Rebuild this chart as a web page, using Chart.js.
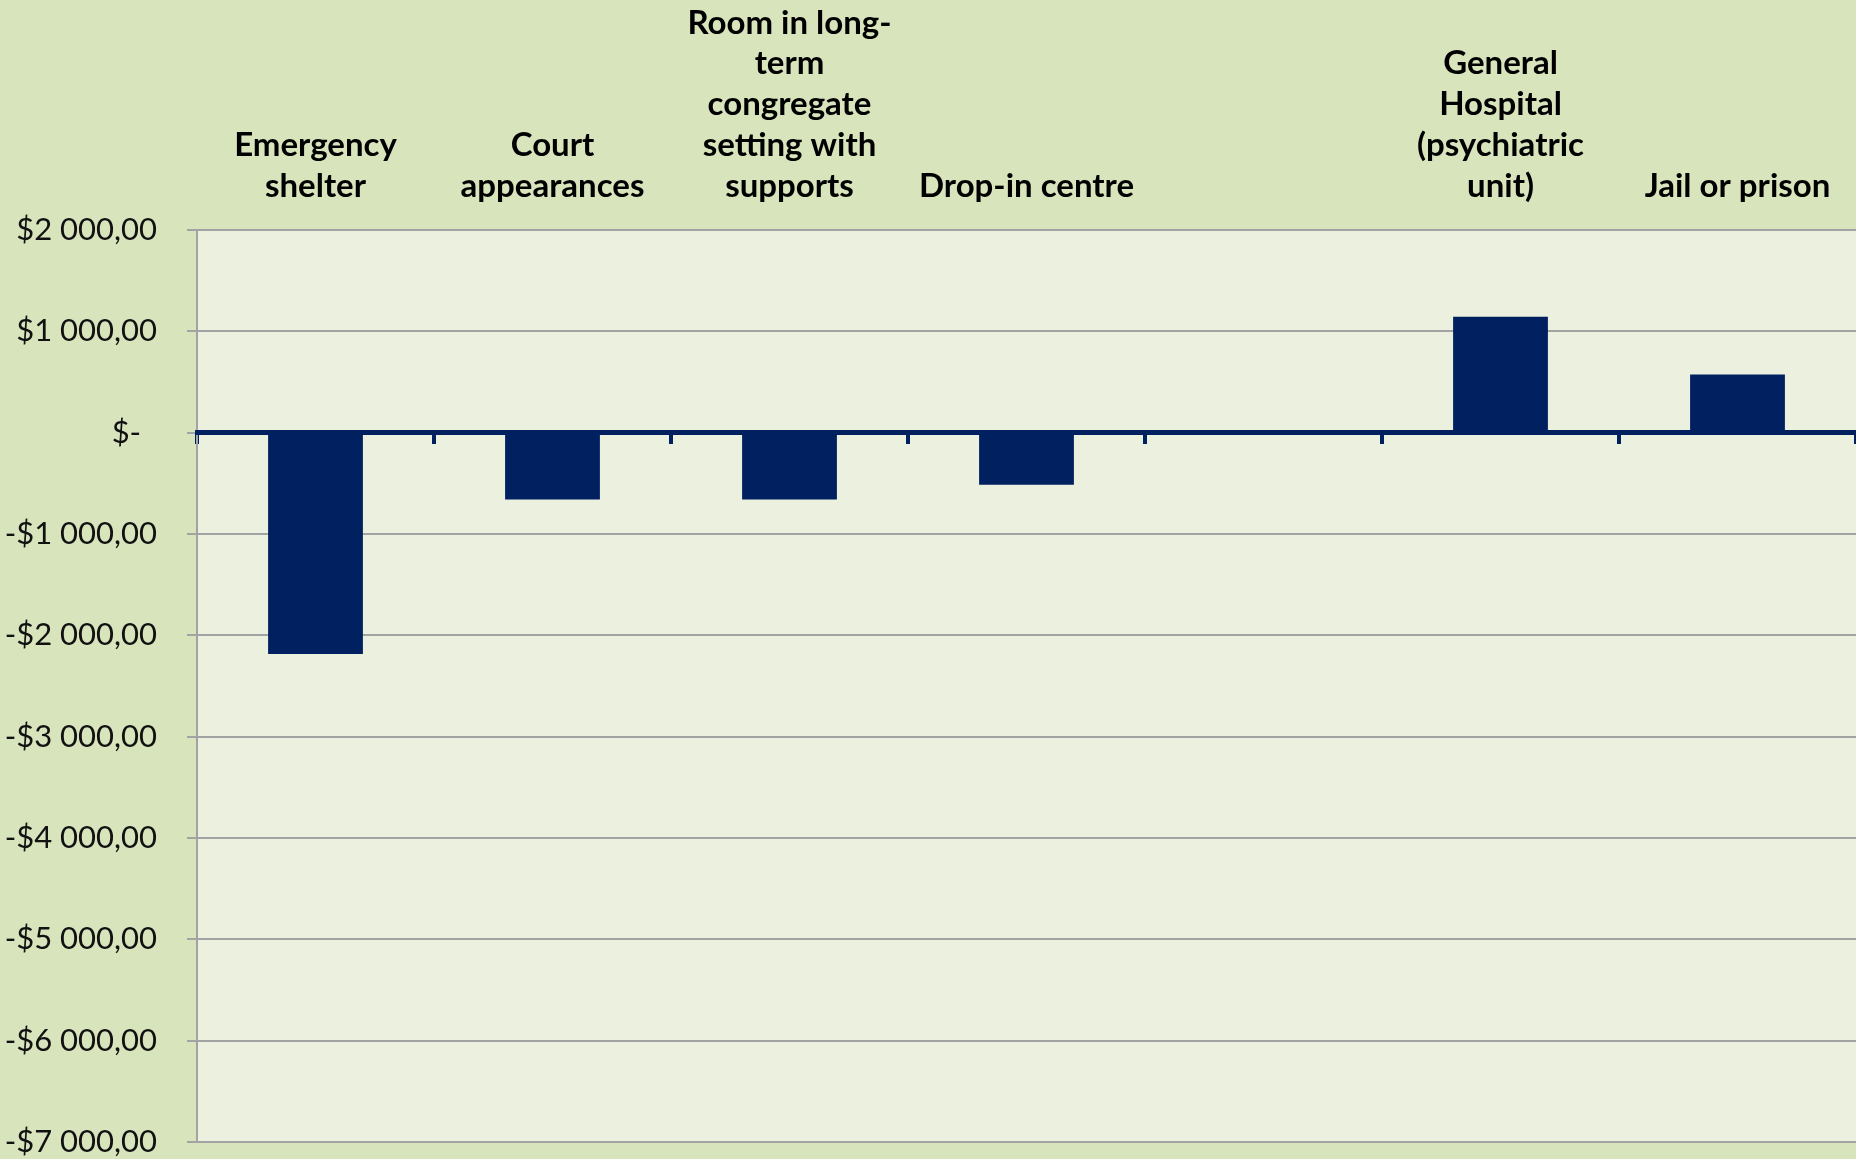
<!DOCTYPE html>
<html>
<head>
<meta charset="utf-8">
<script src="https://cdn.jsdelivr.net/npm/chart.js@4"></script>
<style>
  html, body { margin: 0; padding: 0; background: #D8E4BC; }
  #wrap { width: 1856px; height: 1159px; position: relative; }
</style>
</head>
<body>
<div id="wrap"><canvas id="costChart"></canvas></div>
<script>
// categories (multi-line labels, as wrapped in the original)
const categories = [
    ['Emergency', 'shelter'],
    ['Court', 'appearances'],
    ['Room in long-', 'term', 'congregate', 'setting with', 'supports'],
    ['Drop-in centre'],
    [''],
    ['General', 'Hospital', '(psychiatric', 'unit)'],
    ['Jail or prison']
];

// cost difference per category
const costValues = [-2185, -660, -660, -515, 0, 1145, 575];

// y axis ticks and their printed labels
const yTickValues = [2000, 1000, 0, -1000, -2000, -3000, -4000, -5000, -6000, -7000];
const yTickLabels = ['$2 000,00', '$1 000,00', '$-  ', '-$1 000,00', '-$2 000,00',
    '-$3 000,00', '-$4 000,00', '-$5 000,00', '-$6 000,00', '-$7 000,00'];

const navy = '#002060';
const gridGray = '#a3a3a3';

// fill the plot area a lighter green
const plotBackground = {
    id: 'plotBackground',
    beforeDraw(chart) {
        const {ctx, chartArea} = chart;
        ctx.save();
        ctx.fillStyle = '#EBF1DE';
        ctx.fillRect(chartArea.left, chartArea.top, chartArea.right - chartArea.left, chartArea.bottom - chartArea.top);
        ctx.restore();
    }
};

const ctx = document.getElementById('costChart').getContext('2d');
new Chart(ctx, {
    type: 'bar',
    data: {
        labels: categories,
        datasets: [{
            data: costValues,
            backgroundColor: navy,
            borderWidth: 0,
            barPercentage: 0.4,
            categoryPercentage: 1.0
        }]
    },
    plugins: [plotBackground],
    options: {
        responsive: true,
        maintainAspectRatio: false,
        animation: false,
        layout: {
            padding: { top: 0, right: 0, bottom: 17, left: 0 }
        },
        scales: {
            x: {
                position: 'top',
                offset: true,
                grid: { display: false },
                border: { display: false },
                ticks: {
                    color: '#000',
                    padding: 15,
                    maxRotation: 0,
                    autoSkip: false,
                    font: { family: 'Lato', size: 33, weight: 'bold', lineHeight: 1.24 }
                },
                afterFit: function(scale) { scale.height = 230; }
            },
            // axis line sitting on zero, with its tick marks
            x2: {
                type: 'category',
                labels: categories,
                position: { y: 0 },
                offset: true,
                grid: {
                    offset: true,
                    drawOnChartArea: false,
                    drawTicks: true,
                    tickLength: 9,
                    color: navy,
                    lineWidth: 4
                },
                border: { display: true, color: navy, width: 5, z: 1 },
                ticks: { display: false },
                afterFit: function(scale) { scale.height = 0; }
            },
            y: {
                min: -7000,
                max: 2000,
                afterBuildTicks: function(scale) {
                    scale.ticks = yTickValues.map(v => ({ value: v }));
                },
                grid: {
                    color: gridGray,
                    lineWidth: 2,
                    tickLength: 10
                },
                border: { color: gridGray, width: 2 },
                ticks: {
                    color: '#111',
                    padding: 30,
                    font: { family: 'Lato', size: 31, lineHeight: 1.0 },
                    callback: function(value) {
                        const i = yTickValues.indexOf(value);
                        return i >= 0 ? yTickLabels[i] : '';
                    }
                },
                afterFit: function(scale) {
                    scale.width = 197;
                    // the last label may hang below the plot, as in the original
                    scale.paddingTop = 0;
                    scale.paddingBottom = 0;
                }
            }
        },
        plugins: {
            legend: { display: false },
            tooltip: { enabled: false }
        }
    }
});
</script>
</body>
</html>
